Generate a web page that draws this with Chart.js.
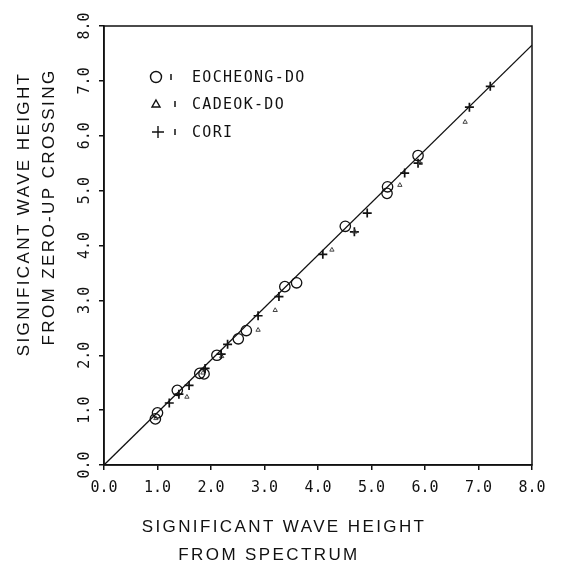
<!DOCTYPE html>
<html>
<head>
<meta charset="utf-8">
<script src="https://cdn.jsdelivr.net/npm/chart.js@4.4.1/dist/chart.umd.min.js"></script>
<style>
html,body{margin:0;padding:0;background:#fff;}
canvas{display:block;}
</style>
</head>
<body>
<canvas id="c" width="564" height="564"></canvas>
<script>
// ---- data ----
const tickLabels = ['0.0','1.0','2.0','3.0','4.0','5.0','6.0','7.0','8.0'];
const seriesNames = ['EOCHEONG-DO','CADEOK-DO','CORI'];
const xTitleLines = ['SIGNIFICANT WAVE HEIGHT','FROM SPECTRUM'];
const yTitleLines = ['SIGNIFICANT WAVE HEIGHT','FROM ZERO-UP CROSSING'];

const eoX = [0.96,1.00,1.37,1.79,1.87,2.11,2.51,2.66,3.38,3.60,4.51,5.29,5.30,5.87];
const eoY = [0.84,0.95,1.36,1.67,1.66,2.00,2.30,2.45,3.25,3.32,4.35,4.95,5.07,5.64];

const caX = [0.97,1.55,1.85,2.20,2.88,3.20,4.26,4.69,5.53,5.91,6.75];
const caY = [0.85,1.24,1.68,1.98,2.46,2.82,3.92,4.25,5.10,5.50,6.25];

const coX = [1.22,1.40,1.59,1.89,2.19,2.31,2.88,3.27,4.09,4.68,4.92,5.62,5.87,6.83,7.22];
const coY = [1.13,1.29,1.45,1.76,2.02,2.20,2.72,3.07,3.84,4.25,4.59,5.32,5.50,6.52,6.90];

const fitX = [0, 8];
const fitY = [0, 7.65];

const pts = (xs, ys) => xs.map((x, i) => ({x: x, y: ys[i]}));

const INK = '#111';
const MONO = '"DejaVu Sans Mono", monospace';
const SANS = '"Liberation Sans", Arial, sans-serif';

function spacedText(ctx, text, x, y, spacing) {
  if ('letterSpacing' in ctx) {
    ctx.letterSpacing = spacing + 'px';
    ctx.fillText(text, x, y);
    ctx.letterSpacing = '0px';
  } else {
    ctx.fillText(text, x, y);
  }
}

const overlay = {
  id: 'overlay',
  afterDraw(chart) {
    const ctx = chart.ctx;
    const a = chart.chartArea;
    const ys = chart.scales.y;
    ctx.save();
    // frame
    ctx.strokeStyle = INK;
    ctx.lineWidth = 1.5;
    ctx.strokeRect(a.left, a.top, a.right - a.left, a.bottom - a.top);

    // rotated y tick labels
    ctx.fillStyle = INK;
    ctx.font = '15px ' + MONO;
    ctx.textAlign = 'center';
    ctx.textBaseline = 'middle';
    tickLabels.forEach((lab, i) => {
      const py = ys.getPixelForValue(i);
      ctx.save();
      ctx.translate(85, py);
      ctx.rotate(-Math.PI / 2);
      ctx.fillText(lab, 0, 0);
      ctx.restore();
    });

    // x title
    ctx.font = '17px ' + SANS;
    ctx.textAlign = 'center';
    ctx.textBaseline = 'middle';
    spacedText(ctx, xTitleLines[0], 284, 527, 2.4);
    spacedText(ctx, xTitleLines[1], 269, 555, 2.4);

    // y title
    ctx.save();
    ctx.translate(24, 214);
    ctx.rotate(-Math.PI / 2);
    spacedText(ctx, yTitleLines[0], 0, 0, 2.4);
    ctx.restore();
    ctx.save();
    ctx.translate(49, 207);
    ctx.rotate(-Math.PI / 2);
    spacedText(ctx, yTitleLines[1], 0, 0, 2.4);
    ctx.restore();

    // legend
    const rows = [77, 104, 132];
    ctx.strokeStyle = INK;
    ctx.lineWidth = 1.4;
    ctx.beginPath(); ctx.arc(156, rows[0], 5.5, 0, Math.PI * 2); ctx.stroke();
    ctx.beginPath();
    ctx.moveTo(156, rows[1] - 4); ctx.lineTo(160, rows[1] + 3); ctx.lineTo(152, rows[1] + 3); ctx.closePath(); ctx.stroke();
    ctx.beginPath();
    ctx.moveTo(152, rows[2]); ctx.lineTo(164, rows[2]);
    ctx.moveTo(158, rows[2] - 6); ctx.lineTo(158, rows[2] + 6); ctx.stroke();
    ctx.lineWidth = 1.5;
    [171, 175, 175].forEach((sx, i) => {
      ctx.beginPath(); ctx.moveTo(sx, rows[i] - 3); ctx.lineTo(sx, rows[i] + 3); ctx.stroke();
    });
    ctx.font = '15px ' + MONO;
    ctx.textAlign = 'left';
    seriesNames.forEach((n, i) => spacedText(ctx, n, 192, rows[i] + 1, 1.3));
    ctx.restore();
  }
};

new Chart(document.getElementById('c'), {
  type: 'scatter',
  data: {
    datasets: [
      {
        type: 'line', label: 'fit', data: pts(fitX, fitY),
        borderColor: INK, borderWidth: 1.3, pointRadius: 0, fill: false, tension: 0, order: 3
      },
      {
        label: seriesNames[0], data: pts(eoX, eoY), pointStyle: 'circle',
        pointRadius: 5.2, borderColor: INK, backgroundColor: 'rgba(0,0,0,0)', borderWidth: 1.3
      },
      {
        label: seriesNames[1], data: pts(caX, caY), pointStyle: 'triangle',
        pointRadius: 2.5, borderColor: '#444', backgroundColor: 'rgba(0,0,0,0)', borderWidth: 1
      },
      {
        label: seriesNames[2], data: pts(coX, coY), pointStyle: 'cross',
        pointRadius: 4.5, borderColor: INK, borderWidth: 1.7
      }
    ]
  },
  options: {
    responsive: false,
    animation: false,
    layout: {padding: {left: 0, right: 32, top: 26, bottom: 0}},
    plugins: {legend: {display: false}, tooltip: {enabled: false}},
    scales: {
      x: {
        type: 'linear', min: 0, max: 8,
        afterFit: s => { s.height = 99; },
        border: {display: true, color: INK, width: 1.5},
        grid: {drawOnChartArea: false, drawTicks: true, tickLength: 5, color: INK, lineWidth: 1.5},
        ticks: {
          stepSize: 1, color: INK, padding: 9, maxRotation: 0,
          font: {family: MONO, size: 15},
          callback: v => tickLabels[v]
        }
      },
      y: {
        type: 'linear', min: 0, max: 8,
        afterFit: s => { s.width = 104; },
        border: {display: true, color: INK, width: 1.5},
        grid: {drawOnChartArea: false, drawTicks: true, tickLength: 5, color: INK, lineWidth: 1.5},
        ticks: {stepSize: 1, display: false}
      }
    }
  },
  plugins: [overlay]
});
</script>
</body>
</html>
